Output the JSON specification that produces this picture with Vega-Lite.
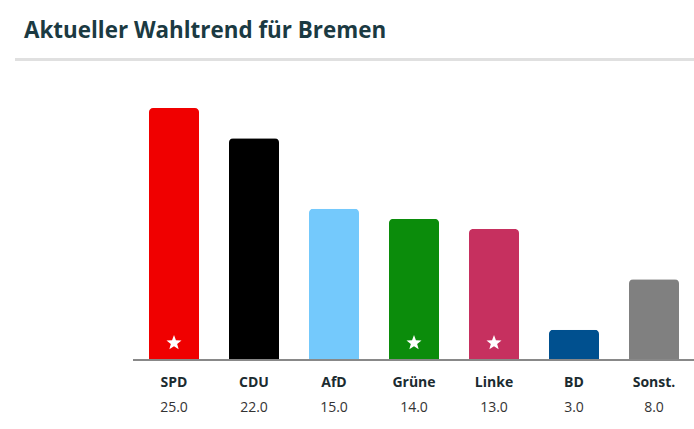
{
  "$schema": "https://vega.github.io/schema/vega-lite/v6.json",
  "width": 560,
  "height": 252,
  "autosize": "none",
  "padding": {"left": 134, "top": 108, "right": 0, "bottom": 69},
  "background": "white",
  "title": {
    "text": "Aktueller Wahltrend für Bremen",
    "anchor": "start",
    "frame": "group",
    "dx": -110,
    "offset": 16,
    "font": "Open Sans",
    "fontSize": 22.4,
    "fontWeight": "bold",
    "color": "#1b3a42"
  },
  "config": {"view": {"stroke": null}, "font": "Open Sans"},
  "data": {
    "values": [
      {"party": "SPD", "value": 25.0, "star": true},
      {"party": "CDU", "value": 22.0, "star": false},
      {"party": "AfD", "value": 15.0, "star": false},
      {"party": "Grüne", "value": 14.0, "star": true},
      {"party": "Linke", "value": 13.0, "star": true},
      {"party": "BD", "value": 3.0, "star": false},
      {"party": "Sonst.", "value": 8.0, "star": false}
    ]
  },
  "encoding": {
    "x": {
      "field": "party",
      "type": "nominal",
      "sort": null,
      "scale": {"paddingInner": 0.375, "paddingOuter": 0.1875},
      "axis": null
    }
  },
  "layer": [
    {
      "mark": {"type": "bar", "cornerRadiusTopLeft": 4, "cornerRadiusTopRight": 4},
      "encoding": {
        "y": {
          "field": "value",
          "type": "quantitative",
          "scale": {"domain": [0, 25], "nice": false, "zero": true},
          "axis": null
        },
        "color": {
          "field": "party",
          "type": "nominal",
          "scale": {
            "domain": ["SPD", "CDU", "AfD", "Grüne", "Linke", "BD", "Sonst."],
            "range": ["#f00000", "#000000", "#74c9fc", "#0b8c0b", "#c6305f", "#00508f", "#808080"]
          },
          "legend": null
        }
      }
    },
    {
      "mark": {"type": "rule", "color": "#e0e0e0", "strokeWidth": 2},
      "encoding": {
        "y": {"datum": 29.8},
        "x": {"value": -119},
        "x2": {"value": 560}
      }
    },
    {
      "mark": {"type": "rule", "color": "#888888", "strokeWidth": 1},
      "encoding": {
        "y": {"datum": 0},
        "x": {"value": -1},
        "x2": {"value": 560}
      }
    },
    {
      "transform": [{"filter": "datum.star"}],
      "mark": {
        "type": "point",
        "filled": true,
        "color": "white",
        "opacity": 1,
        "size": 250,
        "shape": "M0,-1L0.247,-0.34L0.951,-0.309L0.4,0.13L0.588,0.809L0,0.42L-0.588,0.809L-0.4,0.13L-0.951,-0.309L-0.247,-0.34Z"
      },
      "encoding": {"y": {"datum": 1.7}}
    },
    {
      "mark": {"type": "text", "fontSize": 14, "fontWeight": "bold", "color": "#1b2b30", "baseline": "middle"},
      "encoding": {"y": {"datum": -2.28}, "text": {"field": "party"}}
    },
    {
      "mark": {"type": "text", "fontSize": 14, "color": "#333333", "baseline": "middle"},
      "encoding": {"y": {"datum": -4.75}, "text": {"field": "value", "format": ".1f"}}
    }
  ]
}
